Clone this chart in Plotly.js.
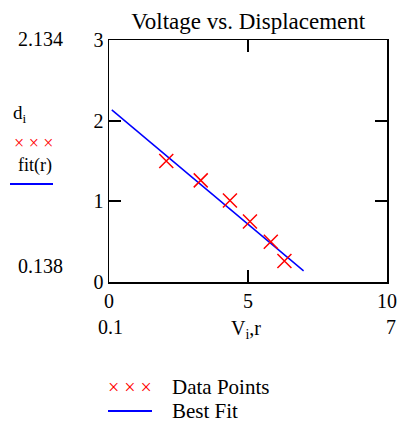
<!DOCTYPE html>
<html>
<head>
<meta charset="utf-8">
<script src="https://cdn.plot.ly/plotly-3.0.1.min.js"></script>
<style>html,body{margin:0;padding:0;background:#fff;}#chart{width:399px;height:423px;}</style>
</head>
<body>
<div id="chart"></div>
<script>
// Data
const voltage = [2.06, 3.30, 4.35, 5.07, 5.82, 6.31];
const displacement = [1.50, 1.26, 1.01, 0.75, 0.50, 0.26];
const fitR = [0.1, 7];
const fitValues = [2.134, 0.138];
const xTicks = [0, 5, 10];
const yTicks = [0, 1, 2, 3];
const chartTitle = "Voltage vs. Displacement";
const seriesNames = ["Data Points", "Best Fit"];

const W = 399, H = 423;
const L = 109, R = 12, T = 40, B = 141;
const pw = W - L - R, ph = H - T - B;
const px = v => (v - L) / pw;
const py = v => (H - B - v) / ph;

const serif = "Liberation Serif, Times New Roman, serif";
const red = "#ff0000", blue = "#0000ff";

const traces = [
  {x: fitR, y: fitValues, mode: "lines", name: seriesNames[1],
   line: {color: blue, width: 1.5}, showlegend: false},
  {x: voltage, y: displacement, mode: "markers", name: seriesNames[0],
   marker: {symbol: "x-thin", size: 14, color: red, line: {color: red, width: 1.5}},
   showlegend: false}
];

function ann(text, x, y, opts) {
  return Object.assign({text: text, x: px(x), y: py(y), xref: "paper", yref: "paper",
    showarrow: false, xanchor: "center", yanchor: "middle",
    font: {family: serif, size: 20, color: "#000"}}, opts || {});
}

const annotations = [
  ann(String(fitValues[0]), 40, 39),
  ann("d<sub>i</sub>", 20, 114, {font: {family: serif, size: 19, color: "#000"}}),
  ann("×\u00a0×\u00a0×", 33, 143, {font: {family: serif, size: 18, color: red}}),
  ann("fit(r)", 35, 165, {font: {family: serif, size: 18, color: "#000"}}),
  ann(String(fitValues[1]), 40, 266),
  ann(String(fitR[0]), 110, 327),
  ann("V<sub>i</sub>,r", 246, 329),
  ann(String(fitR[1]), 391, 327),
  ann("×\u00a0×\u00a0×", 130, 387, {font: {family: serif, size: 20, color: red}}),
  ann(seriesNames[0], 170, 387, {xanchor: "left", font: {family: serif, size: 21, color: "#000"}}),
  ann(seriesNames[1], 170, 411, {xanchor: "left", font: {family: serif, size: 21, color: "#000"}})
];

const shapes = [
  {type: "line", xref: "paper", yref: "paper", x0: px(10), x1: px(53), y0: py(184), y1: py(184),
   line: {color: blue, width: 2}},
  {type: "line", xref: "paper", yref: "paper", x0: px(108), x1: px(152), y0: py(411), y1: py(411),
   line: {color: blue, width: 2}}
];

const axisCommon = {
  showgrid: false, zeroline: false, showline: true, linecolor: "#000", linewidth: 1.5,
  mirror: "ticks", ticks: "inside", ticklen: 12, tickwidth: 2, tickcolor: "#000",
  tickfont: {family: serif, size: 20, color: "#000"}, fixedrange: true
};

const layout = {
  width: W, height: H,
  margin: {l: L, r: R, t: T, b: B, pad: 0},
  paper_bgcolor: "#fff", plot_bgcolor: "#fff",
  title: {text: chartTitle, font: {family: serif, size: 23, color: "#000"},
          x: 0.622, xanchor: "center", y: 1 - 21 / H, yanchor: "middle"},
  xaxis: Object.assign({}, axisCommon, {range: [0, 10], tickvals: xTicks, ticktext: xTicks.map(String)}),
  yaxis: Object.assign({}, axisCommon, {range: [0, 3], tickvals: yTicks, ticktext: yTicks.map(String)}),
  showlegend: false,
  annotations: annotations,
  shapes: shapes
};

Plotly.newPlot("chart", traces, layout, {staticPlot: true, displayModeBar: false});
</script>
</body>
</html>
